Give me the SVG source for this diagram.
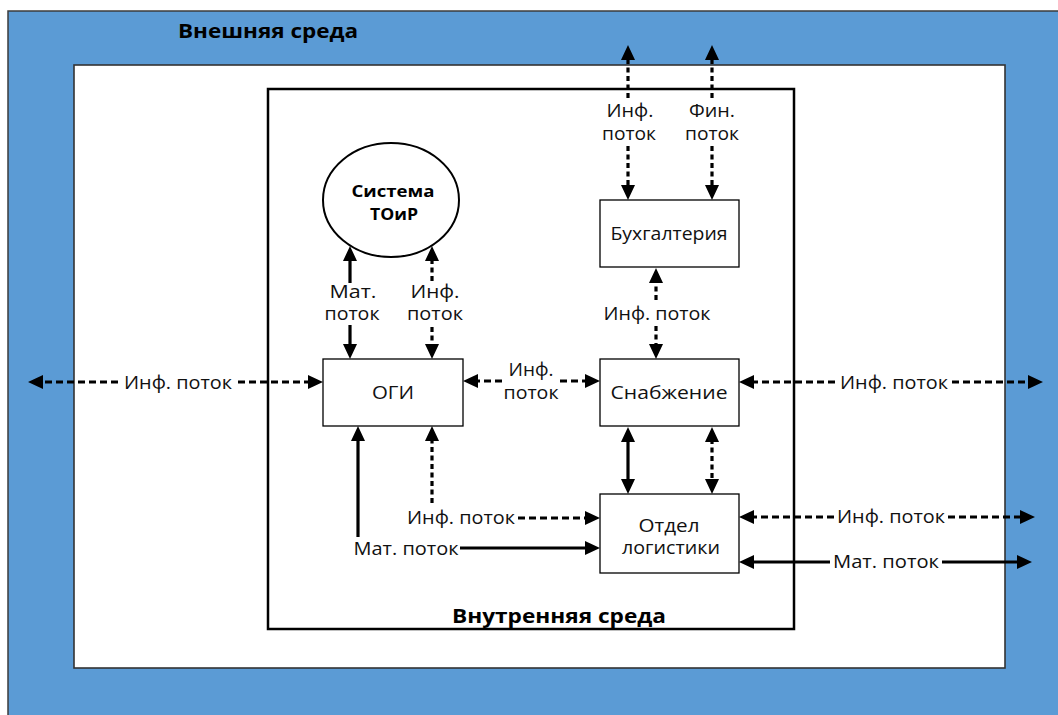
<svg xmlns="http://www.w3.org/2000/svg" width="1058" height="715" viewBox="0 0 1058 715">
<style>
  .lbl { font-family: "Open Sans", "Noto Sans", "DejaVu Sans", sans-serif; font-size: 18px; fill: #111; text-anchor: middle; }
  .bold { font-family: "Open Sans", "Noto Sans", "DejaVu Sans", sans-serif; font-weight: bold; fill: #000; text-anchor: middle; }
  .box { fill: #fff; stroke: #000; stroke-width: 1.3; }
  .solid { stroke: #000; stroke-width: 3.2; fill: none; }
  .dash { stroke: #000; stroke-width: 3.2; fill: none; stroke-dasharray: 7 4; }
  .dot { stroke: #000; stroke-width: 3.2; fill: none; stroke-dasharray: 5 3.5; }
  .end { marker-end: url(#ah); }
  .both { marker-start: url(#ah); marker-end: url(#ah); }
</style>
<defs>
  <marker id="ah" viewBox="0 0 15 14" refX="3" refY="7" markerWidth="15" markerHeight="14" markerUnits="userSpaceOnUse" orient="auto-start-reverse">
    <path d="M0,0 L15,7 L0,14 z" fill="#000"/>
  </marker>
</defs>

<g id="external">
  <rect x="8" y="11" width="1062" height="712" fill="#5B9BD5" stroke="#3c3c3c" stroke-width="1.5"/>
  <text class="bold" x="268" y="38" font-size="19" textLength="180" lengthAdjust="spacingAndGlyphs">Внешняя среда</text>
</g>
<g id="white-area">
  <rect x="74" y="65" width="931" height="603" fill="#fff" stroke="#333" stroke-width="1.6"/>
</g>
<g id="internal">
  <rect x="268" y="89" width="526" height="540" fill="none" stroke="#000" stroke-width="2.5"/>
  <text class="bold" x="559" y="623" font-size="20" textLength="214" lengthAdjust="spacingAndGlyphs">Внутренняя среда</text>
</g>

<g id="toir">
  <ellipse cx="391" cy="200" rx="68" ry="57" fill="#fff" stroke="#000" stroke-width="2"/>
  <text class="bold" x="393" y="197" font-size="16.5" textLength="83" lengthAdjust="spacingAndGlyphs">Система</text>
  <text class="bold" x="394" y="220" font-size="16.5" textLength="48" lengthAdjust="spacingAndGlyphs">ТОиР</text>
</g>
<g id="ogi">
  <rect class="box" x="323" y="359" width="140" height="67"/>
  <text class="lbl" x="393" y="399" textLength="42" lengthAdjust="spacingAndGlyphs">ОГИ</text>
</g>
<g id="buh">
  <rect class="box" x="600" y="200" width="139" height="67"/>
  <text class="lbl" x="669" y="240" textLength="117" lengthAdjust="spacingAndGlyphs">Бухгалтерия</text>
</g>
<g id="snab">
  <rect class="box" x="600" y="359" width="139" height="67"/>
  <text class="lbl" x="669" y="399" textLength="117" lengthAdjust="spacingAndGlyphs">Снабжение</text>
</g>
<g id="logist">
  <rect class="box" x="600" y="494" width="139" height="79"/>
  <text class="lbl" x="669" y="532" textLength="61" lengthAdjust="spacingAndGlyphs">Отдел</text>
  <text class="lbl" x="671" y="554" textLength="98" lengthAdjust="spacingAndGlyphs">логистики</text>
</g>

<g id="connectors">
  <line class="dash end" x1="118" y1="382" x2="40" y2="382"/>
  <line class="dash end" x1="238" y1="382" x2="311" y2="382"/>
  <line class="dash end" x1="502" y1="381" x2="475" y2="381"/>
  <line class="dash end" x1="560" y1="381" x2="588" y2="381"/>
  <line class="dash end" x1="835" y1="382" x2="751" y2="382"/>
  <line class="dash end" x1="952" y1="382" x2="1031" y2="382"/>
  <line class="solid end" x1="350" y1="283" x2="350" y2="258"/>
  <line class="solid end" x1="350" y1="325" x2="350" y2="347"/>
  <line class="dot end" x1="432" y1="281" x2="432" y2="258"/>
  <line class="dot end" x1="432" y1="327" x2="432" y2="347"/>
  <line class="dot end" x1="628" y1="98" x2="628" y2="57"/>
  <line class="dot end" x1="628" y1="146" x2="628" y2="188"/>
  <line class="dot end" x1="712" y1="98" x2="712" y2="57"/>
  <line class="dot end" x1="712" y1="146" x2="712" y2="188"/>
  <line class="dot end" x1="656" y1="300" x2="656" y2="280"/>
  <line class="dot end" x1="656" y1="326" x2="656" y2="347"/>
  <line class="solid both" x1="628" y1="439" x2="628" y2="482"/>
  <line class="dot both" x1="712" y1="439" x2="712" y2="482"/>
  <line class="solid end" x1="358" y1="537" x2="358" y2="438"/>
  <line class="dot end" x1="432" y1="503" x2="432" y2="438"/>
  <line class="dash end" x1="518" y1="518" x2="588" y2="518"/>
  <line class="solid end" x1="460" y1="548" x2="588" y2="548"/>
  <line class="dash end" x1="834" y1="517" x2="751" y2="517"/>
  <line class="dash end" x1="948" y1="517" x2="1023" y2="517"/>
  <line class="solid end" x1="830" y1="562" x2="751" y2="562"/>
  <line class="solid end" x1="942" y1="562" x2="1020" y2="562"/>
</g>

<g id="labels">
  <text class="lbl" x="178" y="389" textLength="108" lengthAdjust="spacingAndGlyphs">Инф. поток</text>
  <text class="lbl" x="531" y="376" textLength="45" lengthAdjust="spacingAndGlyphs">Инф.</text>
  <text class="lbl" x="531" y="399" textLength="55" lengthAdjust="spacingAndGlyphs">поток</text>
  <text class="lbl" x="894" y="389" textLength="108" lengthAdjust="spacingAndGlyphs">Инф. поток</text>
  <text class="lbl" x="353" y="298" textLength="47" lengthAdjust="spacingAndGlyphs">Мат.</text>
  <text class="lbl" x="352" y="320" textLength="55" lengthAdjust="spacingAndGlyphs">поток</text>
  <text class="lbl" x="435" y="298" textLength="49" lengthAdjust="spacingAndGlyphs">Инф.</text>
  <text class="lbl" x="435" y="320" textLength="56" lengthAdjust="spacingAndGlyphs">поток</text>
  <text class="lbl" x="630" y="117" textLength="47" lengthAdjust="spacingAndGlyphs">Инф.</text>
  <text class="lbl" x="629" y="140" textLength="54" lengthAdjust="spacingAndGlyphs">поток</text>
  <text class="lbl" x="712" y="117" textLength="46" lengthAdjust="spacingAndGlyphs">Фин.</text>
  <text class="lbl" x="712" y="140" textLength="54" lengthAdjust="spacingAndGlyphs">поток</text>
  <text class="lbl" x="657" y="320" textLength="107" lengthAdjust="spacingAndGlyphs">Инф. поток</text>
  <text class="lbl" x="461" y="524" textLength="108" lengthAdjust="spacingAndGlyphs">Инф. поток</text>
  <text class="lbl" x="406" y="555" textLength="105" lengthAdjust="spacingAndGlyphs">Мат. поток</text>
  <text class="lbl" x="891" y="523" textLength="108" lengthAdjust="spacingAndGlyphs">Инф. поток</text>
  <text class="lbl" x="886" y="568" textLength="106" lengthAdjust="spacingAndGlyphs">Мат. поток</text>
</g>
</svg>
